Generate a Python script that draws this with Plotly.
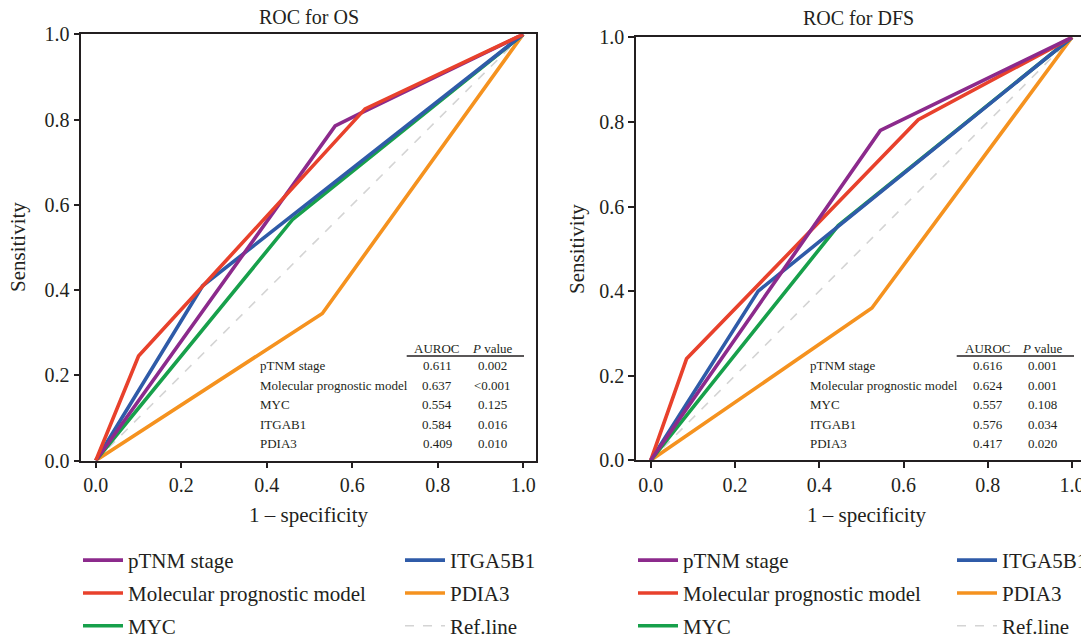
import plotly.graph_objects as go

# ROC curve points (1 - specificity, sensitivity)
OS_PTNM_X = [0, 0.56, 0.62, 1]
OS_PTNM_Y = [0, 0.785, 0.815, 1]
OS_MPM_X = [0, 0.10, 0.63, 1]
OS_MPM_Y = [0, 0.245, 0.825, 1]
OS_MYC_X = [0, 0.46, 1]
OS_MYC_Y = [0, 0.565, 1]
OS_ITGA_X = [0, 0.25, 1]
OS_ITGA_Y = [0, 0.41, 1]
OS_PDIA3_X = [0, 0.53, 1]
OS_PDIA3_Y = [0, 0.345, 1]

DFS_PTNM_X = [0, 0.545, 1]
DFS_PTNM_Y = [0, 0.78, 1]
DFS_MPM_X = [0, 0.085, 0.635, 1]
DFS_MPM_Y = [0, 0.24, 0.805, 1]
DFS_MYC_X = [0, 0.445, 1]
DFS_MYC_Y = [0, 0.555, 1]
DFS_ITGA_X = [0, 0.255, 1]
DFS_ITGA_Y = [0, 0.40, 1]
DFS_PDIA3_X = [0, 0.525, 1]
DFS_PDIA3_Y = [0, 0.36, 1]

REF_X = [0, 1]
REF_Y = [0, 1]

# Summary table
TABLE_ROWS = ["pTNM stage", "Molecular prognostic model", "MYC", "ITGAB1", "PDIA3"]
OS_AUROC = ["0.611", "0.637", "0.554", "0.584", "0.409"]
OS_PVAL = ["0.002", "<0.001", "0.125", "0.016", "0.010"]
DFS_AUROC = ["0.616", "0.624", "0.557", "0.576", "0.417"]
DFS_PVAL = ["0.001", "0.001", "0.108", "0.034", "0.020"]

TICKS = [0, 0.2, 0.4, 0.6, 0.8, 1.0]

W, H = 1081, 637
FONT = "Liberation Serif, Times New Roman, serif"
INK = "#231f20"

C_PTNM = "#8c2a8c"
C_MPM = "#e8412c"
C_MYC = "#17a04b"
C_ITGA = "#2f5ba8"
C_PDIA3 = "#f5921f"
C_REF = "#d4d4d4"


def px(x):
    return x / W


def py(y):
    return 1 - y / H


fig = go.Figure()


def add_panel(xa, ya, curves, leg_a, leg_b):
    # reference diagonal first, then curves in drawing order
    fig.add_trace(go.Scatter(
        x=REF_X, y=REF_Y, mode="lines", name="Ref.line",
        line=dict(color=C_REF, width=1.6, dash="dash"),
        xaxis=xa, yaxis=ya, legend=leg_b, legendgroup=leg_b + "ref",
        legendrank=3, hoverinfo="skip"))
    for name, xs, ys, color, leg, rank in curves:
        fig.add_trace(go.Scatter(
            x=xs, y=ys, mode="lines", name=name,
            line=dict(color=color, width=3.6),
            xaxis=xa, yaxis=ya, legend=leg, legendgroup=leg + name,
            legendrank=rank))


add_panel("x", "y", [
    ("PDIA3", OS_PDIA3_X, OS_PDIA3_Y, C_PDIA3, "legend2", 2),
    ("MYC", OS_MYC_X, OS_MYC_Y, C_MYC, "legend", 3),
    ("ITGA5B1", OS_ITGA_X, OS_ITGA_Y, C_ITGA, "legend2", 1),
    ("pTNM stage", OS_PTNM_X, OS_PTNM_Y, C_PTNM, "legend", 1),
    ("Molecular prognostic model", OS_MPM_X, OS_MPM_Y, C_MPM, "legend", 2),
], "legend", "legend2")

add_panel("x2", "y2", [
    ("PDIA3", DFS_PDIA3_X, DFS_PDIA3_Y, C_PDIA3, "legend4", 2),
    ("MYC", DFS_MYC_X, DFS_MYC_Y, C_MYC, "legend3", 3),
    ("ITGA5B1", DFS_ITGA_X, DFS_ITGA_Y, C_ITGA, "legend4", 1),
    ("Molecular prognostic model", DFS_MPM_X, DFS_MPM_Y, C_MPM, "legend3", 2),
    ("pTNM stage", DFS_PTNM_X, DFS_PTNM_Y, C_PTNM, "legend3", 1),
], "legend3", "legend4")

axis_common = dict(
    showline=True, linecolor=INK, linewidth=1.5,
    ticks="outside", ticklen=6, tickwidth=1.5, tickcolor=INK,
    tickvals=TICKS, tickformat=".1f",
    tickfont=dict(family=FONT, size=20, color=INK),
    showgrid=False, zeroline=False, fixedrange=True, automargin=False,
    ticklabeloverflow="allow",
)

legend_common = dict(
    orientation="v", bgcolor="rgba(0,0,0,0)", borderwidth=0,
    font=dict(family=FONT, size=21, color=INK),
    tracegroupgap=2.5, itemwidth=40, xanchor="left", yanchor="top",
    traceorder="grouped",
)

annotations = []
shapes = []


def text(x, y, s, size, xanchor="center", angle=0):
    annotations.append(dict(
        x=px(x), y=py(y), xref="paper", yref="paper", text=s, showarrow=False,
        xanchor=xanchor, yanchor="middle", textangle=angle,
        font=dict(family=FONT, size=size, color=INK)))


# panel titles and axis titles
text(309, 17, "ROC for OS", 20)
text(858, 18, "ROC for DFS", 20)
text(308, 515, "1 \u2013 specificity", 21)
text(866, 515, "1 \u2013 specificity", 21)
text(18, 247, "Sensitivity", 21, angle=-90)
text(577, 249, "Sensitivity", 21, angle=-90)

ROW_Y = [365.7, 385.2, 404.7, 424.2, 443.7]


def table(name_x, auc_x, p_x, line_x0, line_x1, aucs, pvals):
    text(auc_x, 348, "AUROC", 13)
    text(p_x, 348, "<i>P</i> value", 13)
    shapes.append(dict(type="line", xref="paper", yref="paper",
                       x0=px(line_x0), x1=px(line_x1), y0=py(356), y1=py(356),
                       line=dict(color=INK, width=1.5)))
    for i, row in enumerate(TABLE_ROWS):
        text(name_x, ROW_Y[i], row, 13, xanchor="left")
        text(auc_x, ROW_Y[i], aucs[i], 13)
        text(p_x, ROW_Y[i], pvals[i], 13)


table(257.5, 437.3, 492.8, 406.7, 524, OS_AUROC, OS_PVAL)
table(807.5, 987.7, 1042.8, 956.7, 1074, DFS_AUROC, DFS_PVAL)

LEGEND_TOP = 540

fig.update_layout(
    width=W, height=H,
    margin=dict(l=0, r=0, t=0, b=0, pad=0, autoexpand=False),
    paper_bgcolor="white", plot_bgcolor="white",
    font=dict(family=FONT, color=INK),
    xaxis=dict(axis_common, domain=[px(81.3), px(536)], range=[-0.034, 1.030],
               mirror=True, anchor="y"),
    yaxis=dict(axis_common, domain=[py(460.5), py(34.3)], range=[0, 1],
               mirror=True, anchor="x"),
    xaxis2=dict(axis_common, domain=[px(636), 1.0], range=[-0.035, 1.0213],
                mirror=True, anchor="y2"),
    yaxis2=dict(axis_common, domain=[py(460.3), py(37.3)], range=[0, 1],
                mirror=False, anchor="x2"),
    legend=dict(legend_common, x=px(78), y=py(LEGEND_TOP)),
    legend2=dict(legend_common, x=px(400), y=py(LEGEND_TOP)),
    legend3=dict(legend_common, x=px(633), y=py(LEGEND_TOP)),
    legend4=dict(legend_common, x=px(952), y=py(LEGEND_TOP)),
    annotations=annotations,
    shapes=shapes,
    showlegend=True,
)

fig.write_html("out.html")
